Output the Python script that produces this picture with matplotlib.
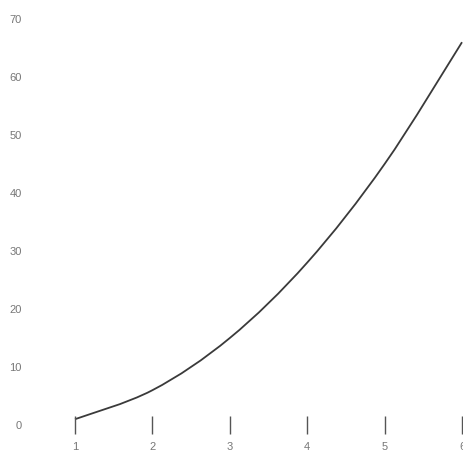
import matplotlib
matplotlib.use("Agg")
import matplotlib.pyplot as plt
from matplotlib.path import Path
from matplotlib.patches import PathPatch

x_vals = [1, 2, 3, 4, 5, 6]
y_vals = [1, 6, 15, 28, 45, 66]
y_ticks = [0, 10, 20, 30, 40, 50, 60, 70]

plt.rcParams["font.family"] = ["Liberation Sans", "DejaVu Sans"]

fig = plt.figure(figsize=(4.63, 4.55), dpi=100)
ax = fig.add_axes([75 / 463, 30 / 455, 387 / 463, 406 / 455])

# smooth line through the points (catmull-rom as bezier segments)
pts = list(zip(x_vals, y_vals))
ext = [pts[0]] + pts + [pts[-1]]
verts = [pts[0]]
codes = [Path.MOVETO]
for i in range(1, len(ext) - 2):
    p0, p1, p2, p3 = ext[i - 1], ext[i], ext[i + 1], ext[i + 2]
    c1 = (p1[0] + (p2[0] - p0[0]) / 6, p1[1] + (p2[1] - p0[1]) / 6)
    c2 = (p2[0] - (p3[0] - p1[0]) / 6, p2[1] - (p3[1] - p1[1]) / 6)
    verts += [c1, c2, p2]
    codes += [Path.CURVE4] * 3
ax.add_patch(PathPatch(Path(verts, codes), facecolor="none", edgecolor="#3a3a3a",
                       linewidth=1.3, clip_on=False))

ax.set_xlim(1, 6)
ax.set_ylim(0, 70)
ax.set_xticks(x_vals)
ax.set_yticks(y_ticks)

for s in ax.spines.values():
    s.set_visible(False)

ax.tick_params(axis="x", direction="inout", length=13, width=1, color="#555555",
               labelsize=8, labelcolor="#777777", pad=6)
ax.tick_params(axis="y", left=False, labelsize=8, labelcolor="#777777", pad=35)

plt.savefig("out.png", dpi=100)
